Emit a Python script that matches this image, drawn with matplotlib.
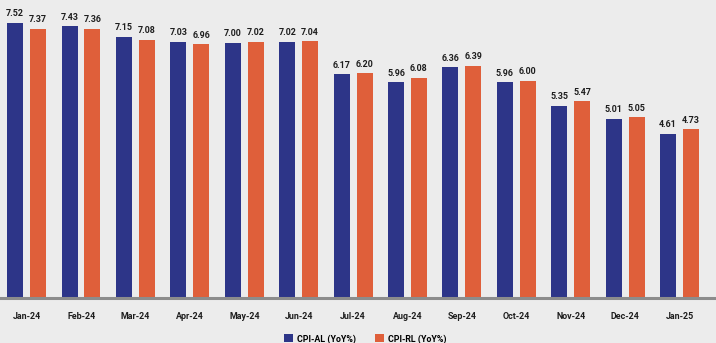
import numpy as np
import matplotlib.pyplot as plt

plt.rcParams['font.family'] = ['Roboto', 'DejaVu Sans']

months = ["Jan-24", "Feb-24", "Mar-24", "Apr-24", "May-24", "Jun-24", "Jul-24",
          "Aug-24", "Sep-24", "Oct-24", "Nov-24", "Dec-24", "Jan-25"]
cpi_al = [7.52, 7.43, 7.15, 7.03, 7.00, 7.02, 6.17, 5.96, 6.36, 5.96, 5.35, 5.01, 4.61]
cpi_rl = [7.37, 7.36, 7.08, 6.96, 7.02, 7.04, 6.20, 6.08, 6.39, 6.00, 5.47, 5.05, 4.73]

BLUE = "#2d3588"
ORANGE = "#df5f3a"
BG = "#ececec"
TEXT = "#1e1e1e"

fig = plt.figure(figsize=(7.16, 3.43), dpi=100, facecolor=BG)
ax = fig.add_axes([0, 45 / 343, 1, 298 / 343])
ax.set_facecolor(BG)

x = np.arange(len(months))
w = 0.294
off = 0.21
b1 = ax.bar(x - off, cpi_al, w, color=BLUE, label="CPI-AL (YoY%)")
b2 = ax.bar(x + off, cpi_rl, w, color=ORANGE, label="CPI-RL (YoY%)")

# value labels above each bar
for bars, vals in ((b1, cpi_al), (b2, cpi_rl)):
    for rect, v in zip(bars, vals):
        ax.annotate(f"{v:.2f}", (rect.get_x() + rect.get_width() / 2, v),
                    xytext=(0, 3.3), textcoords="offset points",
                    ha="center", va="bottom", fontsize=6.4,
                    fontweight="bold", color=TEXT)

ax.set_xlim(-0.49, 12.67)
ax.set_ylim(0.31, 8.12)
ax.set_yticks([])
ax.set_xticks(x)
ax.set_xticklabels(months, fontsize=6.4, fontweight="bold", color=TEXT)
ax.tick_params(axis="x", length=0, pad=10)
for side in ("top", "right", "left"):
    ax.spines[side].set_visible(False)
ax.spines["bottom"].set_color("#8c8c8c")
ax.spines["bottom"].set_linewidth(2.2)

fig.legend(handles=[b1, b2], loc="lower center", bbox_to_anchor=(0.51, -0.025),
           ncol=2, frameon=False, handlelength=1.0, handleheight=1.0,
           columnspacing=2.2, handletextpad=0.4,
           prop={"weight": "bold", "size": 6.4})

fig.savefig("out.png", dpi=100, facecolor=BG)
